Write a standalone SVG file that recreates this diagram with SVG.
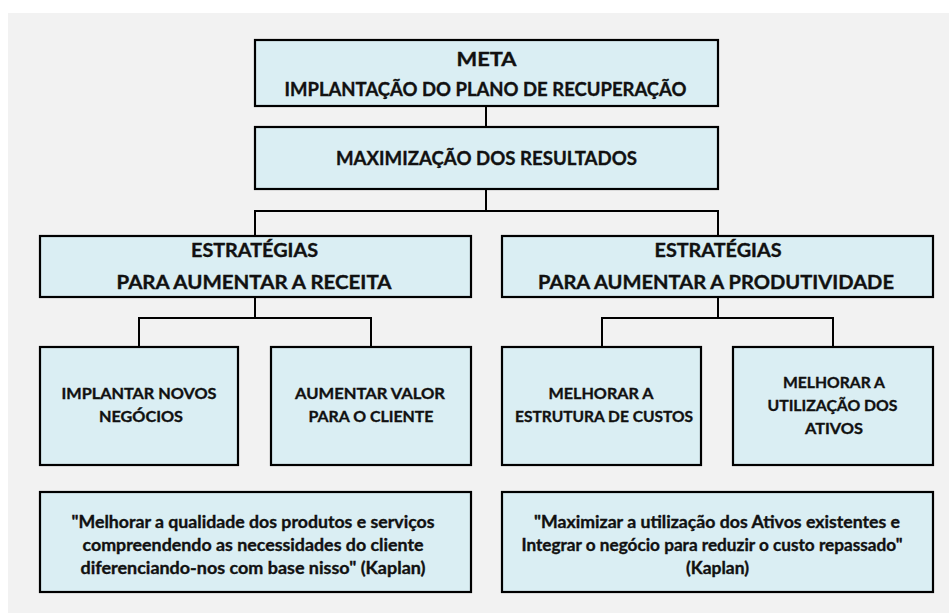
<svg xmlns="http://www.w3.org/2000/svg" width="949" height="613" viewBox="0 0 949 613">
<style>
.box{fill:#daeef3;stroke:#000;stroke-width:2.2}
.c{fill:none;stroke:#000;stroke-width:2}
text{font-family:Lato,"Liberation Sans",sans-serif;font-weight:bold;fill:#111;stroke:#111;stroke-width:0.35;text-anchor:middle}
.h{font-size:18.5px}
.s{font-size:15.5px}
.q{font-size:16.5px}
</style>
<rect x="0" y="0" width="949" height="613" fill="#ffffff"/>
<rect x="8" y="13" width="941" height="600" fill="#f2f2f2"/>
<g id="connectors">
<path class="c" d="M486 106V127"/>
<path class="c" d="M486 189V211"/>
<path class="c" d="M255 236V211H718V236"/>
<path class="c" d="M255 297V318"/>
<path class="c" d="M139 347V318H371V347"/>
<path class="c" d="M718 297V318"/>
<path class="c" d="M602 347V318H833V347"/>
</g>
<g id="meta">
<rect class="box" x="255" y="40" width="463" height="66"/>
<text class="h" x="486.5" y="66" textLength="60" lengthAdjust="spacingAndGlyphs">META</text>
<text class="h" x="485.5" y="96" textLength="402" lengthAdjust="spacingAndGlyphs">IMPLANTAÇÃO DO PLANO DE RECUPERAÇÃO</text>
</g>
<g id="maximizacao">
<rect class="box" x="255" y="127" width="463" height="62"/>
<text class="h" x="486.5" y="165" textLength="301" lengthAdjust="spacingAndGlyphs">MAXIMIZAÇÃO DOS RESULTADOS</text>
</g>
<g id="estrategia-receita">
<rect class="box" x="40" y="236" width="431" height="61"/>
<text class="h" x="254.5" y="257" textLength="127" lengthAdjust="spacingAndGlyphs">ESTRATÉGIAS</text>
<text class="h" x="254" y="289" textLength="275" lengthAdjust="spacingAndGlyphs">PARA AUMENTAR A RECEITA</text>
</g>
<g id="estrategia-produtividade">
<rect class="box" x="502" y="236" width="431" height="61"/>
<text class="h" x="718" y="257" textLength="127" lengthAdjust="spacingAndGlyphs">ESTRATÉGIAS</text>
<text class="h" x="716" y="289" textLength="356" lengthAdjust="spacingAndGlyphs">PARA AUMENTAR A PRODUTIVIDADE</text>
</g>
<g id="novos-negocios">
<rect class="box" x="40" y="347" width="198" height="118"/>
<text class="s" x="139" y="399" textLength="155" lengthAdjust="spacingAndGlyphs">IMPLANTAR NOVOS</text>
<text class="s" x="141" y="422" textLength="84" lengthAdjust="spacingAndGlyphs">NEGÓCIOS</text>
</g>
<g id="valor-cliente">
<rect class="box" x="271" y="347" width="200" height="118"/>
<text class="s" x="370" y="399" textLength="150" lengthAdjust="spacingAndGlyphs">AUMENTAR VALOR</text>
<text class="s" x="371" y="422" textLength="125" lengthAdjust="spacingAndGlyphs">PARA O CLIENTE</text>
</g>
<g id="estrutura-custos">
<rect class="box" x="502" y="347" width="199" height="118"/>
<text class="s" x="601" y="399" textLength="105" lengthAdjust="spacingAndGlyphs">MELHORAR A</text>
<text class="s" x="604" y="422" textLength="178" lengthAdjust="spacingAndGlyphs">ESTRUTURA DE CUSTOS</text>
</g>
<g id="utilizacao-ativos">
<rect class="box" x="733" y="347" width="200" height="118"/>
<text class="s" x="834" y="388" textLength="102" lengthAdjust="spacingAndGlyphs">MELHORAR A</text>
<text class="s" x="832.5" y="411" textLength="130" lengthAdjust="spacingAndGlyphs">UTILIZAÇÃO DOS</text>
<text class="s" x="834" y="434" textLength="58" lengthAdjust="spacingAndGlyphs">ATIVOS</text>
</g>
<g id="citacao-receita">
<rect class="box" x="40" y="492" width="431" height="100"/>
<text class="q" x="253" y="528" textLength="363" lengthAdjust="spacingAndGlyphs">"Melhorar a qualidade dos produtos e serviços</text>
<text class="q" x="253" y="551" textLength="341" lengthAdjust="spacingAndGlyphs">compreendendo as necessidades do cliente</text>
<text class="q" x="253" y="574" textLength="345" lengthAdjust="spacingAndGlyphs">diferenciando-nos com base nisso" (Kaplan)</text>
</g>
<g id="citacao-produtividade">
<rect class="box" x="502" y="492" width="431" height="100"/>
<text class="q" x="717" y="528" textLength="366" lengthAdjust="spacingAndGlyphs">"Maximizar a utilização dos Ativos existentes e</text>
<text class="q" x="712" y="551" textLength="381" lengthAdjust="spacingAndGlyphs">Integrar o negócio para reduzir o custo repassado"</text>
<text class="q" x="717.5" y="574" textLength="63" lengthAdjust="spacingAndGlyphs">(Kaplan)</text>
</g>
</svg>
